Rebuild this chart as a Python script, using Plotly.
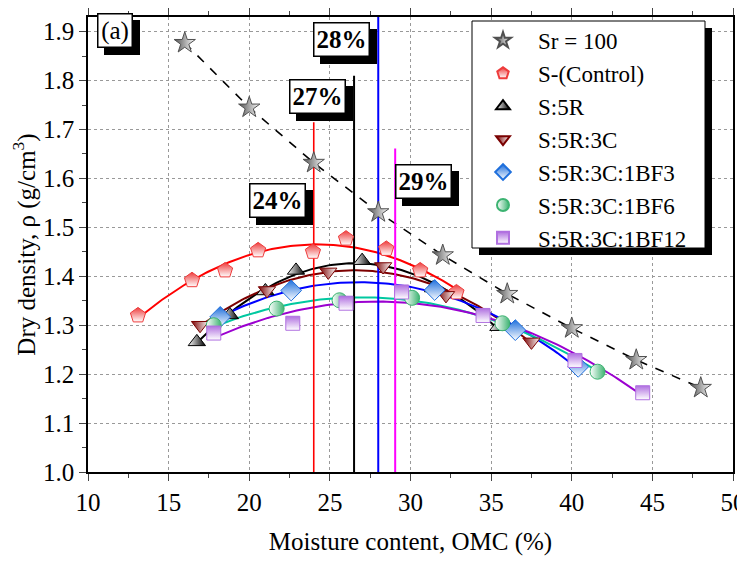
import numpy as np
import plotly.graph_objects as go

# ---------------- data ----------------
sr_x = [16, 20, 24, 28, 32, 36, 40, 44, 48]
sr_y = [1.877, 1.745, 1.632, 1.531, 1.443, 1.364, 1.294, 1.229, 1.172]

ctrl_x = [13.1, 16.45, 18.5, 20.55, 23.95, 26.0, 28.5, 30.6, 32.85]
ctrl_y = [1.320, 1.392, 1.412, 1.453, 1.450, 1.477, 1.456, 1.412, 1.367]

r5_x = [16.75, 18.8, 21.0, 22.9, 27.0, 31.4, 35.45]
r5_y = [1.266, 1.321, 1.370, 1.412, 1.432, 1.376, 1.297]

r5c3_x = [16.95, 21.1, 24.9, 28.3, 32.2, 37.5]
r5c3_y = [1.300, 1.371, 1.409, 1.420, 1.361, 1.266]

bf3_x = [18.2, 22.6, 31.5, 36.5, 40.4]
bf3_y = [1.317, 1.371, 1.372, 1.290, 1.215]

bf6_x = [17.8, 21.7, 25.6, 30.1, 35.7, 41.6]
bf6_y = [1.300, 1.334, 1.351, 1.356, 1.304, 1.205]

bf12_x = [17.8, 22.7, 26.0, 29.45, 34.5, 40.2, 44.4]
bf12_y = [1.284, 1.304, 1.345, 1.368, 1.320, 1.228, 1.162]

names = ["Sr = 100", "S-(Control)", "S:5R", "S:5R:3C",
         "S:5R:3C:1BF3", "S:5R:3C:1BF6", "S:5R:3C:1BF12"]

# optimum moisture content markers
omc_x = [24.0, 26.5, 28.0, 29.05]
omc_top = [1.715, 1.81, 1.93, 1.661]
omc_colors = ["#ff0000", "#000000", "#0000ff", "#ff00ff"]
omc_text = ["24%", "27%", "28%", "29%"]
omc_lab_x = [21.78, 24.21, 25.73, 30.8]
omc_lab_y = [1.554, 1.768, 1.885, 1.593]

x_ticks = [10, 15, 20, 25, 30, 35, 40, 45, 50]
y_ticks = [1.0, 1.1, 1.2, 1.3, 1.4, 1.5, 1.6, 1.7, 1.8, 1.9]

FONT = "Liberation Serif, Times New Roman, Times, serif"

# page offset from the default 8px body margin of the html page
OFF = 8
PAGE_W, PAGE_H = 745, 561
FIG_W, FIG_H = PAGE_W - OFF, PAGE_H - OFF
# plot-area geometry in page pixels
L, R, T, B = 88, 733, 17, 472
def px(xp):
    return (xp - L) / (R - L)
def py(yp):
    return (B - yp) / (B - T)

fig = go.Figure()

# fitted curves (quadratic fits of each series)
fit_series = [
    (ctrl_x, ctrl_y, "#ff0000"),
    (r5_x, r5_y, "#000000"),
    (r5c3_x, r5c3_y, "#7d0000"),
    (bf3_x, bf3_y, "#0000ff"),
    (bf6_x, bf6_y, "#00c8a0"),
    (bf12_x, bf12_y, "#9b00d0"),
]
for xs, ys, col in fit_series:
    c = np.polyfit(xs, ys, 2)
    xx = np.linspace(min(xs), max(xs), 120)
    fig.add_trace(go.Scatter(x=xx, y=np.polyval(c, xx), mode="lines",
                             line=dict(color=col, width=2), showlegend=False,
                             hoverinfo="skip"))

# Sr = 100 dashed line
fig.add_trace(go.Scatter(x=sr_x, y=sr_y, mode="lines",
                         line=dict(color="black", width=1.6, dash="dash"),
                         showlegend=False, hoverinfo="skip"))

# vertical OMC lines
for xv, top, col in zip(omc_x, omc_top, omc_colors):
    fig.add_trace(go.Scatter(x=[xv, xv], y=[1.0, top], mode="lines",
                             line=dict(color=col, width=2 if col != "#ff0000" else 1.6),
                             showlegend=False, hoverinfo="skip"))

# marker series (half-filled look via gradients)
marker_specs = [
    (sr_x, sr_y, "star", "#505050", "white", "horizontal", "#505050", 16),
    (ctrl_x, ctrl_y, "pentagon", "#ee3b3b", "white", "vertical", "#ee3b3b", 16),
    (r5_x, r5_y, "triangle-up", "white", "black", "horizontal", "black", 15),
    (r5c3_x, r5c3_y, "triangle-down", "#7a0000", "white", "horizontal", "#7a0000", 15),
    (bf3_x, bf3_y, "diamond", "#1e6fdc", "white", "vertical", "#1e6fdc", 16),
    (bf6_x, bf6_y, "circle", "white", "#3cb371", "horizontal", "#3cb371", 15),
    (bf12_x, bf12_y, "square", "#b070e0", "white", "vertical", "#b070e0", 14),
]
for (xs, ys, sym, c1, c2, gtype, lc, sz), nm in zip(marker_specs, names):
    fig.add_trace(go.Scatter(
        x=xs, y=ys, mode="markers", name=nm,
        marker=dict(symbol=sym, size=sz, color=c1,
                    gradient=dict(type=gtype, color=c2),
                    line=dict(color=lc, width=1))))

# labels with drop shadow
annots = []
def boxed(text, x, y, w, h, bold=True):
    t = f"<b>{text}</b>" if bold else text
    common = dict(x=x, y=y, xref="x", yref="y", text=t, showarrow=False,
                  width=w, height=h, borderpad=2, borderwidth=1.5,
                  font=dict(family=FONT, size=25, color="black"))
    annots.append(dict(common, bgcolor="black", bordercolor="black",
                       xshift=7, yshift=-7))
    annots.append(dict(common, bgcolor="white", bordercolor="black"))

for t, x, y in zip(omc_text, omc_lab_x, omc_lab_y):
    boxed(t, x, y, 50, 28)
boxed("(a)", 11.7, 1.902, 29, 28, bold=False)

# legend frame (white box + drop shadow)
leg_l, leg_r, leg_t, leg_b = 472, 705, 21, 248
shapes = [
    dict(type="rect", xref="paper", yref="paper",
         x0=px(leg_l + 7), x1=px(leg_r + 7), y0=py(leg_b + 7), y1=py(leg_t + 7),
         fillcolor="black", line=dict(width=0), layer="above"),
    dict(type="rect", xref="paper", yref="paper",
         x0=px(leg_l), x1=px(leg_r), y0=py(leg_b), y1=py(leg_t),
         fillcolor="white", line=dict(color="black", width=1), layer="above"),
]

fig.update_layout(
    width=FIG_W, height=FIG_H,
    margin=dict(l=L - OFF, r=FIG_W - (R - OFF), t=T - OFF, b=FIG_H - (B - OFF)),
    paper_bgcolor="white", plot_bgcolor="white",
    font=dict(family=FONT, size=25, color="black"),
    annotations=annots,
    shapes=shapes,
    showlegend=True,
    legend=dict(x=px(468), y=py(19), xanchor="left", yanchor="top",
                bgcolor="rgba(0,0,0,0)", borderwidth=0,
                font=dict(family=FONT, size=23), tracegroupgap=0,
                itemwidth=60, itemsizing="constant"),
)

fig.update_xaxes(range=[10, 50], tickvals=x_ticks, automargin=False,
                 ticklabeloverflow="allow",
                 ticks="outside", ticklen=7, tickwidth=1.2,
                 showline=True, linecolor="black", linewidth=1.5,
                 mirror="ticks",
                 minor=dict(dtick=2.5, ticks="outside", ticklen=4, tickwidth=1, showgrid=False),
                 showgrid=True, gridcolor="#999999", griddash="dot", gridwidth=1,
                 zeroline=False,
                 title=dict(text="Moisture content, OMC (%)", font=dict(size=25), standoff=18),
                 tickfont=dict(size=25))
fig.update_yaxes(range=[1.0, 1.93], tickvals=y_ticks, tickformat=".1f", automargin=False,
                 ticklabeloverflow="allow",
                 ticks="outside", ticklen=7, tickwidth=1.2,
                 showline=True, linecolor="black", linewidth=1.5,
                 mirror=True,
                 minor=dict(dtick=0.05, ticks="outside", ticklen=4, tickwidth=1, showgrid=False),
                 showgrid=True, gridcolor="#999999", griddash="dot", gridwidth=1,
                 zeroline=False,
                 title=dict(text="Dry density, ρ (g/cm<sup>3</sup>)", font=dict(size=25), standoff=8),
                 tickfont=dict(size=25))

fig.write_html("out.html")
